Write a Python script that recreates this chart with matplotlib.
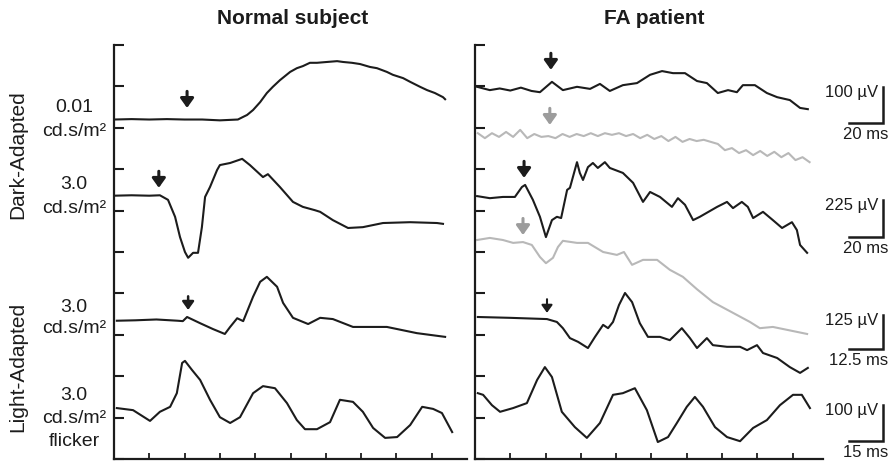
import numpy as np
import matplotlib
matplotlib.use("Agg")
import matplotlib.pyplot as plt

plt.rcParams['font.family'] = ['Liberation Sans', 'DejaVu Sans']

# Traces (x and y in axis divisions)
# Normal subject
n_da001_t = [0, 0.5, 1.0, 1.5, 2.0, 2.5, 3.0, 3.51, 3.65, 3.77, 3.94, 4.14, 4.33, 4.50, 4.70, 4.99, 5.18, 5.35, 5.55, 5.75, 6.03, 6.32, 6.49, 6.74, 6.97, 7.25, 7.45, 7.73, 7.90, 8.19, 8.39, 8.67, 8.87, 9.09, 9.32, 9.38]
n_da001_v = [8.20, 8.21, 8.20, 8.21, 8.20, 8.20, 8.18, 8.20, 8.26, 8.31, 8.43, 8.62, 8.84, 8.99, 9.15, 9.35, 9.44, 9.49, 9.57, 9.57, 9.59, 9.61, 9.59, 9.57, 9.54, 9.47, 9.44, 9.35, 9.28, 9.20, 9.11, 8.99, 8.91, 8.84, 8.74, 8.69]

n_da3_t = [0, 0.5, 1.0, 1.30, 1.53, 1.73, 1.87, 2.01, 2.10, 2.24, 2.38, 2.49, 2.58, 2.72, 2.92, 3.00, 3.29, 3.63, 3.85, 4.22, 4.36, 4.70, 5.07, 5.35, 5.69, 5.84, 6.20, 6.63, 7.05, 7.62, 8.39, 9.15, 9.32]
n_da3_v = [6.36, 6.37, 6.36, 6.37, 6.26, 5.85, 5.36, 5.00, 4.86, 4.98, 4.98, 5.60, 6.33, 6.57, 6.98, 7.10, 7.15, 7.25, 7.10, 6.81, 6.88, 6.57, 6.21, 6.09, 6.01, 5.97, 5.77, 5.58, 5.60, 5.70, 5.72, 5.70, 5.68]

n_la3_t = [0.08, 0.6, 1.2, 1.8, 1.95, 2.07, 2.44, 2.80, 3.14, 3.29, 3.49, 3.66, 3.94, 4.14, 4.33, 4.62, 4.79, 5.07, 5.50, 5.84, 6.20, 6.77, 7.73, 8.58, 9.38]
n_la3_v = [3.34, 3.35, 3.37, 3.34, 3.33, 3.43, 3.28, 3.14, 3.02, 3.19, 3.40, 3.33, 3.92, 4.28, 4.40, 4.16, 3.77, 3.41, 3.26, 3.41, 3.38, 3.19, 3.19, 3.04, 2.95]

n_flk_t = [0.08, 0.54, 1.02, 1.30, 1.59, 1.78, 1.93, 2.01, 2.21, 2.44, 2.72, 3.00, 3.29, 3.57, 3.94, 4.22, 4.56, 4.90, 5.18, 5.41, 5.75, 6.12, 6.40, 6.77, 7.05, 7.34, 7.68, 8.02, 8.39, 8.73, 9.04, 9.29, 9.58]
n_flk_v = [1.23, 1.18, 0.92, 1.14, 1.26, 1.59, 2.32, 2.37, 2.15, 1.91, 1.43, 1.01, 0.87, 1.01, 1.59, 1.76, 1.71, 1.35, 0.94, 0.72, 0.72, 0.89, 1.43, 1.38, 1.14, 0.75, 0.51, 0.53, 0.82, 1.26, 1.21, 1.11, 0.65]

# FA patient
p_da001_t = [0.06, 0.42, 0.7, 1.0, 1.3, 1.6, 1.84, 2.18, 2.49, 2.89, 3.26, 3.54, 3.82, 4.19, 4.59, 4.96, 5.30, 5.61, 5.95, 6.29, 6.57, 6.88, 7.17, 7.42, 7.59, 7.93, 8.27, 8.56, 8.92, 9.21, 9.43]
p_da001_v = [8.99, 8.91, 8.95, 8.90, 8.97, 8.89, 8.86, 9.11, 8.91, 8.99, 8.94, 9.06, 8.89, 9.03, 9.08, 9.28, 9.37, 9.32, 9.32, 9.13, 9.08, 8.84, 8.91, 8.86, 9.03, 9.03, 8.84, 8.74, 8.67, 8.48, 8.45]

# gray repeat, sampled every 0.2 division from 0.08
p_da001b_v = [7.87, 7.75, 7.87, 7.78, 7.90, 7.78, 7.95, 7.75, 7.85, 7.78, 7.80, 7.75,
              7.85, 7.78, 7.85, 7.80, 7.87, 7.80, 7.87, 7.83, 7.87, 7.80, 7.85, 7.75,
              7.83, 7.73, 7.80, 7.68, 7.78, 7.66, 7.73, 7.68, 7.71, 7.66, 7.61, 7.46,
              7.51, 7.39, 7.46, 7.34, 7.44, 7.32, 7.42, 7.29, 7.39, 7.22, 7.29, 7.17]
p_da001b_t = np.linspace(0.08, 0.08 + 0.2 * (len(p_da001b_v) - 1), len(p_da001b_v))

p_da3_t = [0.06, 0.42, 0.79, 1.13, 1.33, 1.42, 1.64, 1.84, 2.01, 2.18, 2.32, 2.44, 2.61, 2.69, 2.89, 2.97, 3.06, 3.20, 3.34, 3.48, 3.68, 3.82, 4.19, 4.48, 4.76, 4.96, 5.24, 5.58, 5.75, 5.95, 6.18, 6.37, 6.86, 7.14, 7.31, 7.56, 7.73, 7.88, 8.16, 8.44, 8.70, 8.98, 9.12, 9.21, 9.41]
p_da3_v = [6.35, 6.30, 6.33, 6.33, 6.57, 6.62, 6.26, 5.85, 5.36, 5.77, 5.85, 5.82, 6.50, 6.55, 7.17, 6.91, 6.74, 7.05, 7.15, 7.03, 7.17, 7.03, 6.91, 6.67, 6.21, 6.45, 6.33, 6.09, 6.30, 6.14, 5.77, 5.85, 6.09, 6.21, 6.06, 6.21, 6.09, 5.82, 5.97, 5.77, 5.58, 5.72, 5.53, 5.17, 4.98]

p_da3b_t = [0.06, 0.42, 0.79, 1.08, 1.36, 1.61, 1.84, 2.01, 2.21, 2.35, 2.49, 2.89, 3.20, 3.63, 4.02, 4.22, 4.45, 4.76, 5.16, 5.52, 5.89, 6.29, 6.74, 7.31, 7.79, 8.07, 8.44, 8.84, 9.41]
p_da3b_v = [5.29, 5.34, 5.29, 5.22, 5.24, 5.17, 4.88, 4.73, 4.86, 5.12, 5.27, 5.22, 5.22, 5.00, 4.93, 5.00, 4.69, 4.81, 4.81, 4.57, 4.40, 4.10, 3.79, 3.53, 3.31, 3.16, 3.19, 3.12, 3.02]

p_la3_t = [0.08, 0.99, 2.04, 2.32, 2.49, 2.69, 2.92, 3.20, 3.40, 3.63, 3.77, 3.91, 4.08, 4.25, 4.45, 4.67, 4.90, 5.24, 5.52, 5.86, 6.09, 6.29, 6.57, 6.74, 7.14, 7.51, 7.71, 7.99, 8.16, 8.56, 8.92, 9.21, 9.43]
p_la3_v = [3.43, 3.41, 3.38, 3.31, 3.16, 2.92, 2.83, 2.68, 2.95, 3.24, 3.16, 3.31, 3.72, 4.01, 3.79, 3.28, 2.95, 2.95, 2.87, 3.16, 2.92, 2.68, 2.92, 2.75, 2.71, 2.71, 2.63, 2.75, 2.56, 2.44, 2.22, 2.08, 2.20]

p_flk_t = [0.08, 0.23, 0.48, 0.71, 1.08, 1.47, 1.76, 1.98, 2.18, 2.46, 2.83, 3.17, 3.54, 3.91, 4.19, 4.53, 4.87, 5.18, 5.47, 5.72, 6.00, 6.23, 6.46, 6.80, 7.14, 7.51, 7.88, 8.27, 8.64, 9.01, 9.26, 9.49]
p_flk_v = [1.59, 1.55, 1.30, 1.14, 1.23, 1.35, 1.91, 2.22, 1.98, 1.14, 0.77, 0.51, 0.87, 1.55, 1.59, 1.71, 1.18, 0.41, 0.53, 0.87, 1.26, 1.50, 1.26, 0.77, 0.53, 0.43, 0.75, 0.94, 1.30, 1.55, 1.55, 1.23]

# stimulus arrows: x, tip y
n_arrow_x = [2.07, 1.27, 2.10]
n_arrow_y = [8.48, 6.55, 3.60]
p_arrow_x = [2.15, 1.39, 2.04]
p_arrow_y = [9.40, 6.79, 3.53]
p_grey_arrow_x = [2.12, 1.36]
p_grey_arrow_y = [8.07, 5.41]

# scale bars
scale_uv = ["100 \u00b5V", "225 \u00b5V", "125 \u00b5V", "100 \u00b5V"]
scale_ms = ["20 ms", "20 ms", "12.5 ms", "15 ms"]
scale_top = [8.99, 6.26, 3.48, 1.30]
scale_bot = [8.12, 5.36, 2.66, 0.43]

BLACK = "#1c1c1c"
GREY = "#b8b8b8"
GREY_ARROW = "#9c9c9c"

W, H = 893, 461
fig = plt.figure(figsize=(W / 100, H / 100), dpi=100)


def px(x, y):
    return x / W, 1 - y / H


def panel(left, width, xmax):
    ax = fig.add_axes([left / W, 2 / H, width / W, 414 / H])
    ax.set_xlim(0, xmax)
    ax.set_ylim(0, 10)
    for s in ["top", "right"]:
        ax.spines[s].set_visible(False)
    for s in ["left", "bottom"]:
        ax.spines[s].set_linewidth(1.6)
        ax.spines[s].set_color(BLACK)
    ax.set_yticks(range(0, 11))
    ax.set_xticks(range(1, 10))
    ax.tick_params(axis="y", direction="in", length=7.5, width=1.5, color=BLACK)
    ax.tick_params(axis="x", direction="in", length=4.5, width=1.3, color=BLACK)
    ax.tick_params(labelleft=False, labelbottom=False)
    return ax


def arrow(ax, x, y, color, length=0.40, lw=2.2, scale=16):
    ax.annotate("", xy=(x, y), xytext=(x, y + length),
                arrowprops=dict(arrowstyle="-|>,head_length=0.35,head_width=0.25",
                                mutation_scale=scale, lw=lw, color=color,
                                shrinkA=0, shrinkB=0), annotation_clip=False)


ax_n = panel(114, 353, 10.0)
ax_p = panel(475, 348, 9.86)

for t, v in [(n_da001_t, n_da001_v), (n_da3_t, n_da3_v),
             (n_la3_t, n_la3_v), (n_flk_t, n_flk_v)]:
    ax_n.plot(t, v, color=BLACK, lw=1.5, solid_joinstyle="round")

for t, v in [(p_da001b_t, p_da001b_v), (p_da3b_t, p_da3b_v)]:
    ax_p.plot(t, v, color=GREY, lw=1.5, solid_joinstyle="round")
for t, v in [(p_da001_t, p_da001_v), (p_da3_t, p_da3_v),
             (p_la3_t, p_la3_v), (p_flk_t, p_flk_v)]:
    ax_p.plot(t, v, color=BLACK, lw=1.5, solid_joinstyle="round")

for i, (x, y) in enumerate(zip(n_arrow_x, n_arrow_y)):
    if i < 2:
        arrow(ax_n, x, y, BLACK)
    else:
        arrow(ax_n, x, y, BLACK, length=0.33, lw=1.8, scale=14)
for i, (x, y) in enumerate(zip(p_arrow_x, p_arrow_y)):
    if i < 2:
        arrow(ax_p, x, y, BLACK)
    else:
        arrow(ax_p, x, y, BLACK, length=0.33, lw=1.5, scale=13)
for x, y in zip(p_grey_arrow_x, p_grey_arrow_y):
    arrow(ax_p, x, y, GREY_ARROW)

# calibration bars to the right of the patient panel
bar_x, bar_x0 = 11.56, 10.6
for uv, ms, top, bot in zip(scale_uv, scale_ms, scale_top, scale_bot):
    ax_p.plot([bar_x0, bar_x, bar_x], [bot, bot, top], color=BLACK, lw=1.8,
              clip_on=False, solid_joinstyle="miter")
    ax_p.text(11.42, top - 0.14, uv, ha="right", va="center", fontsize=12, color=BLACK)
    ax_p.text(11.70, bot - 0.27, ms, ha="right", va="center", fontsize=12, color=BLACK)

# titles
fig.text(*px(293, 18), "Normal subject", ha="center", va="center",
         fontsize=15, fontweight="bold", color=BLACK)
fig.text(*px(654, 18), "FA patient", ha="center", va="center",
         fontsize=15, fontweight="bold", color=BLACK)

# row labels
row_text = ["0.01", "cd.s/m\u00b2", "3.0", "cd.s/m\u00b2", "3.0", "cd.s/m\u00b2",
            "3.0", "cd.s/m\u00b2", "flicker"]
row_y = [107, 132, 184, 208, 307, 328, 395, 418, 441]
for txt, y in zip(row_text, row_y):
    fig.text(*px(74, y), txt, ha="center", va="center", fontsize=14, color=BLACK)

fig.text(*px(18, 155), "Dark-Adapted", rotation=90, ha="center", va="center",
         fontsize=15, color=BLACK)
fig.text(*px(18, 367), "Light-Adapted", rotation=90, ha="center", va="center",
         fontsize=15, color=BLACK)

fig.savefig("out.png", dpi=100)
